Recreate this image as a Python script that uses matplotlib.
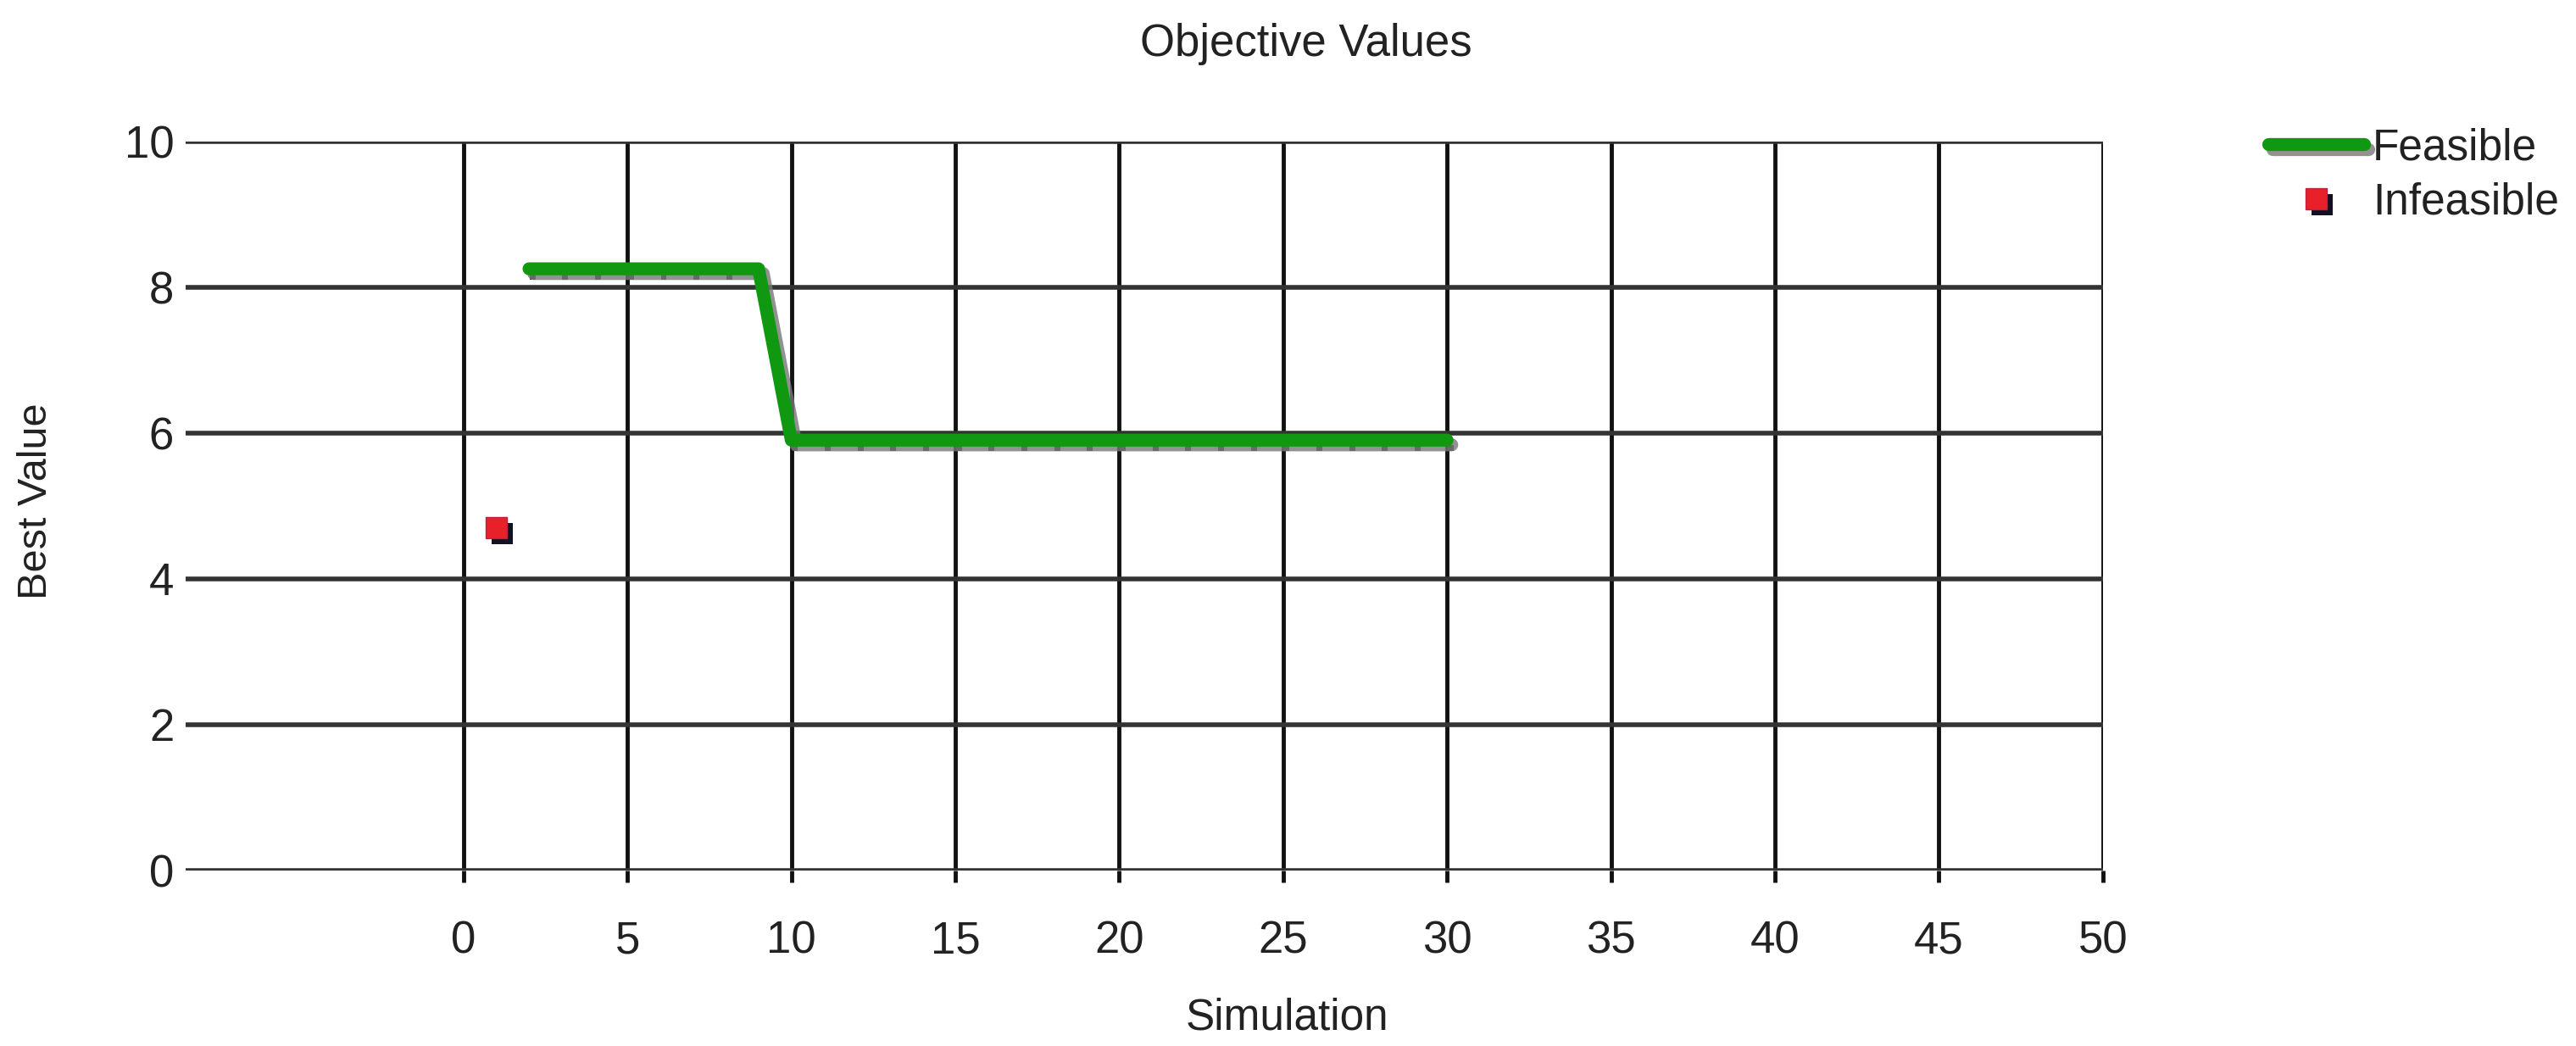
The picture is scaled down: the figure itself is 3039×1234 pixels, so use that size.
import matplotlib
matplotlib.use("Agg")
import matplotlib.pyplot as plt
import matplotlib.patheffects as pe

# feasible best values per simulation
feas_x = [2, 3, 4, 5, 6, 7, 8, 9, 10, 11, 12, 13, 14, 15, 16, 17, 18, 19, 20,
          21, 22, 23, 24, 25, 26, 27, 28, 29, 30]
feas_y = [8.25] * 8 + [5.9] * 21
# infeasible points
infeas_x = [1]
infeas_y = [4.7]

xticks = list(range(0, 51, 5))
yticks = [0, 2, 4, 6, 8, 10]

fam = ["Liberation Sans", "DejaVu Sans"]
txt = "#222222"

fig = plt.figure(figsize=(30.39, 12.34), dpi=100)
ax = fig.add_axes([0.0721, 0.168, 0.8163 - 0.0721, 0.865 - 0.168])

green = "#109810"
# marker shadows (dark dots under the line)
ax.plot(feas_x, feas_y, linestyle="none", marker="s", markersize=5, color=green,
        path_effects=[pe.SimplePatchShadow(offset=(3, -7), shadow_rgbFace="#333333", alpha=1.0)],
        zorder=3)
ax.plot(feas_x, feas_y, color=green, linewidth=11, solid_capstyle="round",
        path_effects=[pe.SimpleLineShadow(offset=(4, -4), shadow_color="#777777", alpha=0.8),
                      pe.Normal()],
        zorder=4, label="Feasible")
ax.plot(infeas_x, infeas_y, linestyle="none", marker="s", markersize=18,
        color="#e8202a", markeredgecolor="#c02040", markeredgewidth=1,
        path_effects=[pe.SimplePatchShadow(offset=(5, -5), shadow_rgbFace="#111122", alpha=1.0),
                      pe.Normal()],
        zorder=5, label="Infeasible")

ax.set_xlim(-8.47, 50)
ax.set_ylim(0, 10)
ax.set_xticks(xticks)
ax.set_yticks(yticks)
for s in ax.spines.values():
    s.set_visible(False)
ax.set_axisbelow(True)
ax.xaxis.grid(True, color="#111111", linewidth=3.5)
ax.yaxis.grid(True, color="#333333", linewidth=4)
ax.tick_params(axis="x", length=10, width=3.5, color="#111111", pad=32)
ax.tick_params(axis="y", length=0, pad=10)
for lab in ax.get_xticklabels() + ax.get_yticklabels():
    lab.set_family(fam)
    lab.set_fontsize(38)
    lab.set_color(txt)

fig.text(0.507, 0.958, "Objective Values", ha="center", va="center",
         family=fam, fontsize=38, color=txt)
fig.text(0.4995, 0.027, "Simulation", ha="center", va="center",
         family=fam, fontsize=37, color=txt)
fig.text(0.014, 0.521, "Best Value", ha="center", va="center", rotation=90,
         family=fam, fontsize=35, color=txt)

leg = ax.legend(loc="upper left", bbox_to_anchor=(0.872, 0.899),
                bbox_transform=fig.transFigure, frameon=False,
                prop={"family": fam, "size": 37}, handlelength=2.2,
                handletextpad=0.2, labelspacing=0.3, borderpad=0)
for t in leg.get_texts():
    t.set_color(txt)

fig.savefig("out.png", dpi=100)
